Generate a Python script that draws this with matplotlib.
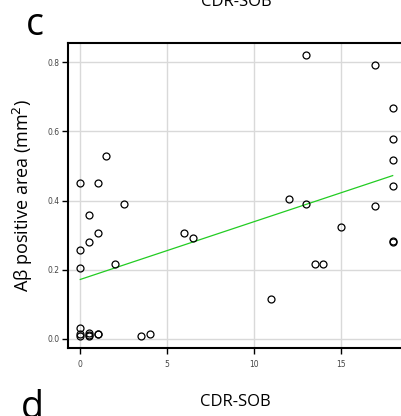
import numpy as np
import matplotlib
matplotlib.use('Agg')
import matplotlib.pyplot as plt

# CDR-SOB score vs amyloid-beta positive area
cdr_sob = [0, 0, 0, 0, 0, 0, 0.5, 0.5, 0.5, 0.5, 0.5, 1, 1, 1, 1, 1.5, 2, 2.5,
           3.5, 4, 6, 6.5, 11, 12, 13, 13, 13.5, 14, 15, 17, 17,
           18, 18, 18, 18, 18, 18]
abeta_area = [0.450, 0.258, 0.204, 0.033, 0.014, 0.008, 0.357, 0.279, 0.018, 0.012, 0.008,
              0.450, 0.306, 0.013, 0.013, 0.528, 0.217, 0.391,
              0.008, 0.013, 0.307, 0.291, 0.116, 0.404, 0.821, 0.391, 0.217, 0.216,
              0.323, 0.793, 0.384,
              0.666, 0.578, 0.518, 0.442, 0.282, 0.280]

# linear fit
fit_intercept = 0.172
fit_slope = 0.01667
fit_range = [0, 18]

x_ticks = [0, 5, 10, 15]
y_ticks = [0.0, 0.2, 0.4, 0.6, 0.8]

fig = plt.figure(figsize=(4.02, 4.16), dpi=100)
ax = fig.add_axes([0.169, 0.1635, 0.835, 0.733])

ax.grid(True, color='#d9d9d9', linewidth=1.0)
ax.set_axisbelow(True)

fx = np.array(fit_range)
ax.plot(fx, fit_intercept + fit_slope * fx, color='#22cc22', linewidth=0.9, zorder=2)
ax.plot(cdr_sob, abeta_area, 'o', mfc='none', mec='black', ms=5, mew=0.9, zorder=3)

ax.set_xlim(-0.71, 18.63)
ax.set_ylim(-0.026, 0.855)
ax.set_xticks(x_ticks)
ax.set_yticks(y_ticks)
ax.set_xticklabels([str(t) for t in x_ticks])
ax.set_yticklabels(['%.1f' % t for t in y_ticks])
ax.tick_params(labelsize=5.5, colors='black', labelcolor='#444444', length=4, width=1)
ax.tick_params(axis='x', pad=5)
ax.tick_params(axis='y', pad=2)

for side in ['left', 'bottom', 'top']:
    ax.spines[side].set_linewidth(1.5)
    ax.spines[side].set_color('black')
ax.spines['right'].set_visible(False)

ax.set_ylabel('Aβ positive area (mm$^2$)', fontsize=13, family='Open Sans', labelpad=9)
ax.set_xlabel('CDR-SOB', fontsize=12, family='Open Sans', labelpad=18)

fig.text(0.087, 0.915, 'c', fontsize=27, family='Open Sans', ha='center', va='baseline')
fig.text(0.08, -0.005, 'd', fontsize=27, family='Open Sans', ha='center', va='baseline')
fig.text(0.589, 0.985, 'CDR-SOB', fontsize=12, family='Open Sans', ha='center', va='baseline')

fig.savefig('out.png', dpi=100)
